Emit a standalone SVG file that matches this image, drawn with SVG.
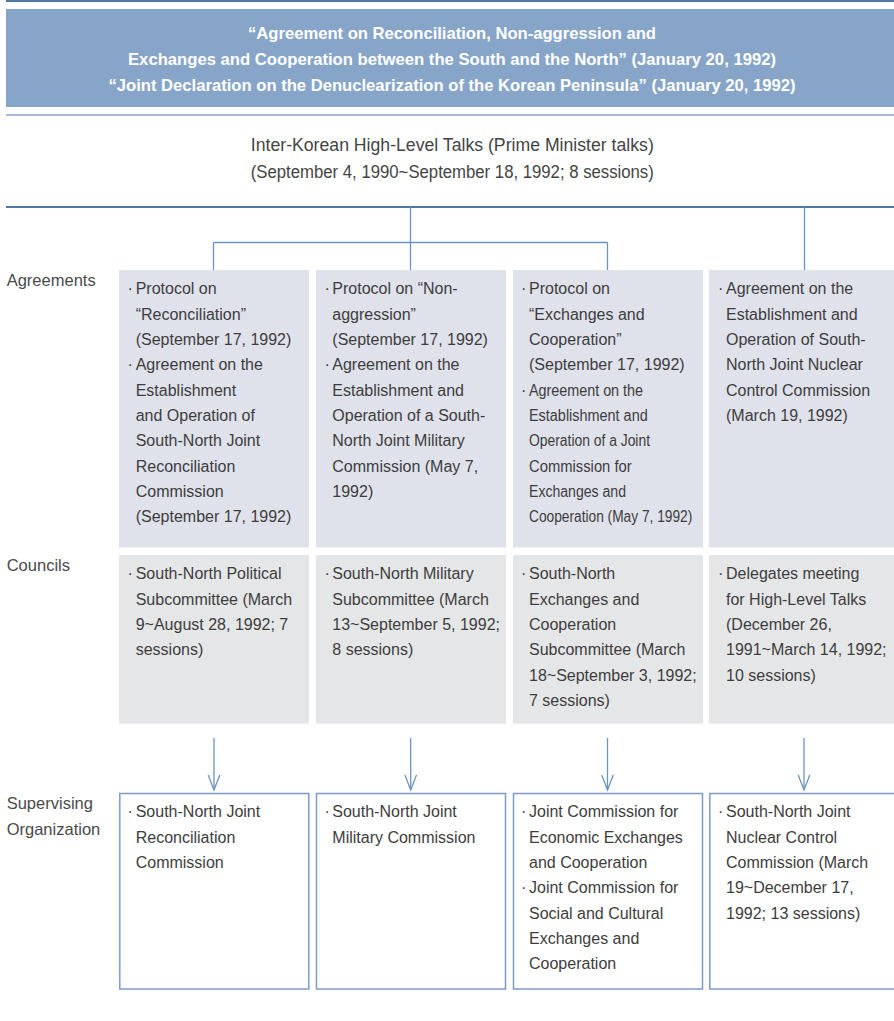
<svg xmlns="http://www.w3.org/2000/svg" width="894" height="1021" viewBox="0 0 894 1021">
<style>
  text { font-family: "Liberation Sans", Arial, sans-serif; fill: #3d3d3d; }
  .hd { font-size: 16.7px; font-weight: bold; fill: #ffffff; text-anchor: middle; }
  .ttl { font-size: 17.5px; fill: #444444; text-anchor: middle; }
  .lbl { font-size: 16.5px; fill: #4a4a4a; }
  .bx { font-size: 16px; }
  .agr { fill: #dfe1eb; }
  .cou { fill: #e5e6e8; }
  .sup { fill: #ffffff; stroke: #7b9dc5; stroke-width: 1.5; }
  .con { fill: none; stroke: #6a93bf; stroke-width: 1.3; }
  .arr { fill: none; stroke: #6a93bf; stroke-width: 1.3; marker-end: url(#vhead); }
</style>
<defs>
  <marker id="vhead" markerUnits="userSpaceOnUse" orient="auto" refX="0" refY="0" markerWidth="20" markerHeight="20" overflow="visible">
    <path d="M-15,-5.8 L0,0 L-15,5.8" fill="none" stroke="#6a93bf" stroke-width="1.3"/>
  </marker>
</defs>
<rect width="894" height="1021" fill="#ffffff"/>

<g id="header">
  <rect x="6" y="0" width="888" height="2" fill="#4e79a7"/>
  <rect x="6" y="9" width="888" height="98" fill="#87a5c8"/>
  <rect x="6" y="114" width="888" height="2" fill="#a3bbd6"/>
  <text class="hd" x="452" y="38.5" textLength="408" lengthAdjust="spacingAndGlyphs">“Agreement on Reconciliation, Non-aggression and</text>
  <text class="hd" x="452" y="64.8" textLength="648" lengthAdjust="spacingAndGlyphs">Exchanges and Cooperation between the South and the North” (January 20, 1992)</text>
  <text class="hd" x="452" y="90.8" textLength="687" lengthAdjust="spacingAndGlyphs">“Joint Declaration on the Denuclearization of the Korean Peninsula” (January 20, 1992)</text>
</g>

<g id="talks">
  <text class="ttl" x="452.3" y="151" textLength="403" lengthAdjust="spacingAndGlyphs">Inter-Korean High-Level Talks (Prime Minister talks)</text>
  <text class="ttl" x="452.3" y="178.3" textLength="403" lengthAdjust="spacingAndGlyphs">(September 4, 1990~September 18, 1992; 8 sessions)</text>
</g>

<g id="connectors">
  <line x1="6" y1="207" x2="894" y2="207" stroke="#4e79a7" stroke-width="2"/>
  <path class="con" d="M410.5,207 V270 M213.5,242.5 H607.5 M213.5,242.5 V270 M607.5,242.5 V270 M804.5,207 V270"/>
  <path class="arr" d="M214,738 V790"/>
  <path class="arr" d="M410.7,738 V790"/>
  <path class="arr" d="M607.5,738 V790"/>
  <path class="arr" d="M804,738 V790"/>
</g>

<g id="row-labels">
  <text class="lbl" x="6.7" y="286">Agreements</text>
  <text class="lbl" x="6.7" y="570.7">Councils</text>
  <text class="lbl" x="6.7" y="809.3">Supervising</text>
  <text class="lbl" x="6.7" y="834.5">Organization</text>
</g>

<!-- Agreements row -->
<g id="agr-1">
  <rect class="agr" x="119" y="270" width="190" height="277.5"/>
  <text class="bx" x="127.5" y="294.3">·</text>
  <text class="bx" x="135.7" y="294.3">Protocol on</text>
  <text class="bx" x="135.7" y="319.6">“Reconciliation”</text>
  <text class="bx" x="135.7" y="345">(September 17, 1992)</text>
  <text class="bx" x="127.5" y="370.3">·</text>
  <text class="bx" x="135.7" y="370.3">Agreement on the</text>
  <text class="bx" x="135.7" y="395.6">Establishment</text>
  <text class="bx" x="135.7" y="421">and Operation of</text>
  <text class="bx" x="135.7" y="446.3">South-North Joint</text>
  <text class="bx" x="135.7" y="471.6">Reconciliation</text>
  <text class="bx" x="135.7" y="497">Commission</text>
  <text class="bx" x="135.7" y="522.3">(September 17, 1992)</text>
</g>
<g id="agr-2">
  <rect class="agr" x="316" y="270" width="190" height="277.5"/>
  <text class="bx" x="324.5" y="294.3">·</text>
  <text class="bx" x="332.3" y="294.3">Protocol on “Non-</text>
  <text class="bx" x="332.3" y="319.6">aggression”</text>
  <text class="bx" x="332.3" y="345">(September 17, 1992)</text>
  <text class="bx" x="324.5" y="370.3">·</text>
  <text class="bx" x="332.3" y="370.3">Agreement on the</text>
  <text class="bx" x="332.3" y="395.6">Establishment and</text>
  <text class="bx" x="332.3" y="421">Operation of a South-</text>
  <text class="bx" x="332.3" y="446.3">North Joint Military</text>
  <text class="bx" x="332.3" y="471.6">Commission (May 7,</text>
  <text class="bx" x="332.3" y="497">1992)</text>
</g>
<g id="agr-3">
  <rect class="agr" x="513" y="270" width="190" height="277.5"/>
  <text class="bx" x="521" y="294.3">·</text>
  <text class="bx" x="529" y="294.3">Protocol on</text>
  <text class="bx" x="529" y="319.6">“Exchanges and</text>
  <text class="bx" x="529" y="345">Cooperation”</text>
  <text class="bx" x="529" y="370.3">(September 17, 1992)</text>
  <text class="bx" x="521" y="395.6">·</text>
  <text class="bx" x="529" y="395.6" textLength="114" lengthAdjust="spacingAndGlyphs">Agreement on the</text>
  <text class="bx" x="529" y="421" textLength="118.7" lengthAdjust="spacingAndGlyphs">Establishment and</text>
  <text class="bx" x="529" y="446.3" textLength="121" lengthAdjust="spacingAndGlyphs">Operation of a Joint</text>
  <text class="bx" x="529" y="471.6" textLength="102.7" lengthAdjust="spacingAndGlyphs">Commission for</text>
  <text class="bx" x="529" y="497" textLength="97" lengthAdjust="spacingAndGlyphs">Exchanges and</text>
  <text class="bx" x="529" y="522.3" textLength="163.3" lengthAdjust="spacingAndGlyphs">Cooperation (May 7, 1992)</text>
</g>
<g id="agr-4">
  <rect class="agr" x="709" y="270" width="190" height="277.5"/>
  <text class="bx" x="718" y="294.3">·</text>
  <text class="bx" x="726" y="294.3">Agreement on the</text>
  <text class="bx" x="726" y="319.6">Establishment and</text>
  <text class="bx" x="726" y="345">Operation of South-</text>
  <text class="bx" x="726" y="370.3">North Joint Nuclear</text>
  <text class="bx" x="726" y="395.6">Control Commission</text>
  <text class="bx" x="726" y="421">(March 19, 1992)</text>
</g>

<!-- Councils row -->
<g id="cou-1">
  <rect class="cou" x="119" y="555" width="190" height="168.7"/>
  <text class="bx" x="127.5" y="579.3">·</text>
  <text class="bx" x="135.7" y="579.3">South-North Political</text>
  <text class="bx" x="135.7" y="604.6">Subcommittee (March</text>
  <text class="bx" x="135.7" y="630">9~August 28, 1992; 7</text>
  <text class="bx" x="135.7" y="655.3">sessions)</text>
</g>
<g id="cou-2">
  <rect class="cou" x="316" y="555" width="190" height="168.7"/>
  <text class="bx" x="324.5" y="579.3">·</text>
  <text class="bx" x="332.3" y="579.3">South-North Military</text>
  <text class="bx" x="332.3" y="604.6">Subcommittee (March</text>
  <text class="bx" x="332.3" y="630">13~September 5, 1992;</text>
  <text class="bx" x="332.3" y="655.3">8 sessions)</text>
</g>
<g id="cou-3">
  <rect class="cou" x="513" y="555" width="190" height="168.7"/>
  <text class="bx" x="521" y="579.3">·</text>
  <text class="bx" x="529" y="579.3">South-North</text>
  <text class="bx" x="529" y="604.6">Exchanges and</text>
  <text class="bx" x="529" y="630">Cooperation</text>
  <text class="bx" x="529" y="655.3">Subcommittee (March</text>
  <text class="bx" x="529" y="680.6">18~September 3, 1992;</text>
  <text class="bx" x="529" y="706">7 sessions)</text>
</g>
<g id="cou-4">
  <rect class="cou" x="709" y="555" width="190" height="168.7"/>
  <text class="bx" x="718" y="579.3">·</text>
  <text class="bx" x="726" y="579.3">Delegates meeting</text>
  <text class="bx" x="726" y="604.6">for High-Level Talks</text>
  <text class="bx" x="726" y="630">(December 26,</text>
  <text class="bx" x="726" y="655.3">1991~March 14, 1992;</text>
  <text class="bx" x="726" y="680.6">10 sessions)</text>
</g>

<!-- Supervising Organization row -->
<g id="sup-1">
  <rect class="sup" x="119.8" y="793.5" width="189" height="195.5"/>
  <text class="bx" x="127.5" y="817.3">·</text>
  <text class="bx" x="135.7" y="817.3">South-North Joint</text>
  <text class="bx" x="135.7" y="842.6">Reconciliation</text>
  <text class="bx" x="135.7" y="868">Commission</text>
</g>
<g id="sup-2">
  <rect class="sup" x="316.5" y="793.5" width="189" height="195.5"/>
  <text class="bx" x="324.5" y="817.3">·</text>
  <text class="bx" x="332.3" y="817.3">South-North Joint</text>
  <text class="bx" x="332.3" y="842.6">Military Commission</text>
</g>
<g id="sup-3">
  <rect class="sup" x="513.5" y="793.5" width="189" height="195.5"/>
  <text class="bx" x="521" y="817.3">·</text>
  <text class="bx" x="529" y="817.3">Joint Commission for</text>
  <text class="bx" x="529" y="842.6">Economic Exchanges</text>
  <text class="bx" x="529" y="868">and Cooperation</text>
  <text class="bx" x="521" y="893.3">·</text>
  <text class="bx" x="529" y="893.3">Joint Commission for</text>
  <text class="bx" x="529" y="918.6">Social and Cultural</text>
  <text class="bx" x="529" y="944">Exchanges and</text>
  <text class="bx" x="529" y="969.3">Cooperation</text>
</g>
<g id="sup-4">
  <rect class="sup" x="709.8" y="793.5" width="189" height="195.5"/>
  <text class="bx" x="718" y="817.3">·</text>
  <text class="bx" x="726" y="817.3">South-North Joint</text>
  <text class="bx" x="726" y="842.6">Nuclear Control</text>
  <text class="bx" x="726" y="868">Commission (March</text>
  <text class="bx" x="726" y="893.3">19~December 17,</text>
  <text class="bx" x="726" y="918.6">1992; 13 sessions)</text>
</g>
</svg>
